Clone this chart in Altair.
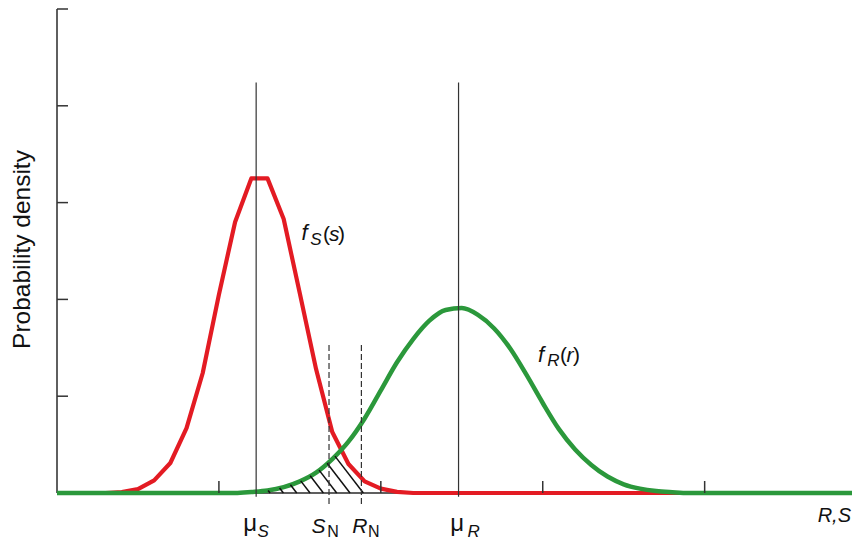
import altair as alt
import numpy as np
import pandas as pd

# ---------------- data ----------------
red_x = [0.0, 0.3, 0.4, 0.5, 0.6, 0.7, 0.8, 0.9, 1.0, 1.1, 1.2, 1.3, 1.4, 1.5,
         1.6, 1.7, 1.8, 1.9, 2.0, 2.1, 2.2, 4.91]
red_y = [0.0, 0.0, 0.01, 0.04, 0.13, 0.31, 0.67, 1.24, 2.05, 2.80, 3.25, 3.25,
         2.83, 2.06, 1.28, 0.63, 0.30, 0.12, 0.045, 0.012, 0.0, 0.0]

green_x = [0.0, 1.1, 1.2, 1.3, 1.4, 1.5, 1.6, 1.7, 1.8, 1.9, 2.0, 2.1, 2.2, 2.3,
           2.4, 2.5, 2.6, 2.7, 2.8, 2.9, 3.0, 3.1, 3.2, 3.3, 3.4, 3.5, 3.6,
           3.7, 3.8, 3.9, 4.91]
green_y = [0.0, 0.0, 0.01, 0.025, 0.06, 0.12, 0.21, 0.35, 0.53, 0.77, 1.06,
           1.35, 1.59, 1.78, 1.89, 1.91, 1.84, 1.70, 1.49, 1.22, 0.93, 0.66,
           0.45, 0.29, 0.17, 0.09, 0.045, 0.02, 0.008, 0.0, 0.0]

mean_names = ["mu_s", "mu_r"]
mean_vals = [1.23, 2.48]
nominal_names = ["s_n", "r_n"]
nominal_vals = [1.68, 1.88]
x_ticks = [1, 2, 3, 4]
y_ticks = [1, 2, 3, 4, 5]
mean_top = 4.24
dash_top = 1.53

X_MAX = 4.91
Y_MAX = 5
W, H = 795, 484
FONT = "Liberation Sans"
INK = "#2a2a2a"
RED = "#e31b23"
GREEN = "#2b983b"

xs = alt.Scale(domain=[0, X_MAX], nice=False, zero=False)
ys = alt.Scale(domain=[0, Y_MAX], nice=False, zero=False)


def X(field):
    return alt.X(field, scale=xs, axis=None)


def Y(field):
    return alt.Y(field, scale=ys, axis=None)


red_df = pd.DataFrame({"x": red_x, "y": red_y})
green_df = pd.DataFrame({"x": green_x, "y": green_y})

# ---------------- hatch under min(red, green) ----------------
def envelope(x):
    return np.minimum(np.interp(x, red_x, red_y), np.interp(x, green_x, green_y))

slope = 2.17  # hatch direction in data units
rows = []
for xb in np.arange(1.316, 1.90, 0.0823):
    grid = np.linspace(xb, xb - 0.6, 2401)
    line_y = slope * (xb - grid)
    env = envelope(grid)
    hit = np.nonzero(line_y >= env)[0]
    if len(hit) == 0 or hit[0] == 0:
        continue
    i = hit[0]
    rows.append({"x0": grid[i], "y0": line_y[i], "x1": xb, "y1": 0.0})
hatch_df = pd.DataFrame(rows)

# ---------------- axes drawn as rules ----------------
y_axis = alt.Chart(pd.DataFrame({"x": [0.0], "y0": [0.0], "y1": [float(Y_MAX)]})).mark_rule(
    color=INK, strokeWidth=1.5).encode(x=X("x:Q"), y=Y("y0:Q"), y2="y1:Q")
x_axis = alt.Chart(pd.DataFrame({"x0": [0.0], "x1": [X_MAX], "y": [0.0]})).mark_rule(
    color=INK, strokeWidth=1.5).encode(x=X("x0:Q"), x2="x1:Q", y=Y("y:Q"))

red_line = alt.Chart(red_df).mark_line(color=RED, strokeWidth=4.2,
                                       strokeJoin="round").encode(x=X("x:Q"), y=Y("y:Q"))
green_line = alt.Chart(green_df).mark_line(color=GREEN, strokeWidth=4.5,
                                           interpolate="monotone").encode(
    x=X("x:Q"), y=Y("y:Q"))

hatch = alt.Chart(hatch_df).mark_rule(color="#111111", strokeWidth=1.5).encode(
    x=X("x0:Q"), y=Y("y0:Q"), x2="x1:Q", y2="y1:Q")

means_df = pd.DataFrame({"name": mean_names, "x": mean_vals,
                         "top": [mean_top] * 2, "bot": [-0.04] * 2})
means = alt.Chart(means_df).mark_rule(color="#333333", strokeWidth=1.2).encode(
    x=X("x:Q"), y=Y("top:Q"), y2="bot:Q")

nom_df = pd.DataFrame({"name": nominal_names, "x": nominal_vals,
                       "top": [dash_top] * 2, "bot": [-0.12] * 2})
nominals = alt.Chart(nom_df).mark_rule(color="#333333", strokeWidth=1.2,
                                       strokeDash=[6, 3]).encode(
    x=X("x:Q"), y=Y("top:Q"), y2="bot:Q")

xt = alt.Chart(pd.DataFrame({"x": x_ticks})).mark_rule(color="#333333",
                                                      strokeWidth=1.5).encode(
    x=X("x:Q"), y=alt.value(H), y2=alt.value(H - 12))
yt = alt.Chart(pd.DataFrame({"y": y_ticks})).mark_rule(color="#333333",
                                                      strokeWidth=1.5).encode(
    y=Y("y:Q"), x=alt.value(0), x2=alt.value(11))


def txt(s, x, y, size, italic=False, align="center", dx=0, baseline="alphabetic",
        angle=0):
    return alt.Chart(pd.DataFrame({"t": [s]})).mark_text(
        font=FONT, fontSize=size, fontStyle="italic" if italic else "normal",
        align=align, baseline=baseline, color="#111111", dx=dx, angle=angle
    ).encode(text="t:N", x=x, y=y)


def dat(v):
    return alt.X(datum=v, scale=xs, axis=None)


labels = [
    # y axis title
    txt("Probability density", alt.value(-34.5), alt.value(240.5), 24.5,
        baseline="middle", angle=270),
    # mu_S
    txt("μ", dat(mean_vals[0]), alt.value(522), 24, dx=-6),
    txt("S", dat(mean_vals[0]), alt.value(528), 17, italic=True, dx=7),
    # S_N
    txt("S", dat(nominal_vals[0]), alt.value(524), 21, italic=True, dx=-10.5),
    txt("N", dat(nominal_vals[0]), alt.value(528), 16, dx=4),
    # R_N
    txt("R", dat(nominal_vals[1]), alt.value(524), 21, italic=True, dx=-1.5),
    txt("N", dat(nominal_vals[1]), alt.value(528), 16, dx=12.5),
    # mu_R
    txt("μ", dat(mean_vals[1]), alt.value(522), 24, dx=-1.5),
    txt("R", dat(mean_vals[1]), alt.value(528), 17, italic=True, dx=15),
    # axis name
    txt("R,S", alt.value(794), alt.value(513), 20, italic=True, align="right"),
    # f_S(s)
    txt("f", alt.value(247.5), alt.value(231), 22, italic=True),
    txt("S", alt.value(259), alt.value(236), 17, italic=True),
    txt("(", alt.value(266), alt.value(232), 21, align="left"),
    txt("s", alt.value(272), alt.value(232), 21, italic=True, align="left"),
    txt(")", alt.value(281), alt.value(232), 21, align="left"),
    # f_R(r)
    txt("f", alt.value(484), alt.value(353), 22, italic=True),
    txt("R", alt.value(496.5), alt.value(357), 17, italic=True),
    txt("(", alt.value(503), alt.value(353), 21, align="left"),
    txt("r", alt.value(509.5), alt.value(353), 21, italic=True, align="left"),
    txt(")", alt.value(516), alt.value(353), 21, align="left"),
]

chart = alt.layer(x_axis, y_axis, red_line, green_line, hatch, nominals, xt, yt,
                  means, *labels).properties(
    width=W, height=H,
    autosize=alt.AutoSizeParams(type="none"),
    padding={"left": 49, "top": 1, "right": 0, "bottom": 47},
    background="white",
).configure_view(strokeWidth=0)

chart.save("out.html", embed_options={"renderer": "svg", "actions": False})
